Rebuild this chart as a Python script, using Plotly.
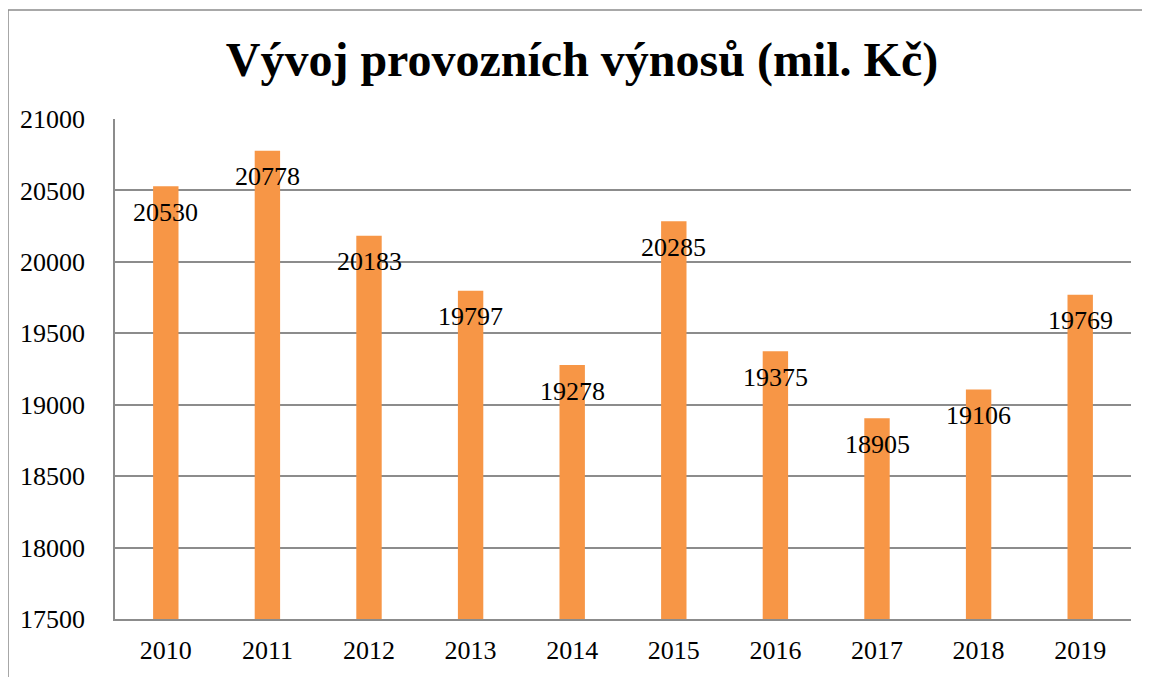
import plotly.graph_objects as go

years = [2010, 2011, 2012, 2013, 2014, 2015, 2016, 2017, 2018, 2019]
values = [20530, 20778, 20183, 19797, 19278, 20285, 19375, 18905, 19106, 19769]
y_ticks = [17500, 18000, 18500, 19000, 19500, 20000, 20500, 21000]

FONT = "Liberation Serif"

fig = go.Figure()
fig.add_trace(go.Bar(
    x=years, y=values, marker=dict(color="#F79646", line=dict(width=0)),
    hoverinfo="x+y",
))

for yr, v in zip(years, values):
    fig.add_annotation(x=yr, y=v, text=str(v), showarrow=False,
                       yanchor="middle", yshift=-26,
                       font=dict(family=FONT, size=26, color="black"))

fig.add_shape(type="rect", xref="paper", yref="paper",
              x0=-0.1053, y0=-0.3, x1=1.2, y1=1.218,
              line=dict(color="#8c8c8c", width=1.5), layer="below")

fig.update_layout(
    width=1142, height=669,
    margin=dict(l=107, r=19, t=111, b=58, autoexpand=False),
    paper_bgcolor="white", plot_bgcolor="white",
    bargap=0.75,
    showlegend=False,
    title=dict(text="<b>Vývoj provozních výnosů (mil. Kč)</b>",
               x=0.5026, xanchor="center", y=0.9238, yanchor="middle",
               font=dict(family=FONT, size=48, color="black")),
    font=dict(family=FONT, size=26, color="black"),
)
fig.update_yaxes(range=[17500, 21000], tickvals=y_ticks,
                 ticktext=[str(t) for t in y_ticks],
                 showgrid=True, gridcolor="#8c8c8c", gridwidth=1.5,
                 showline=True, linecolor="#8c8c8c", linewidth=1.5,
                 zeroline=False, ticks="outside", ticklen=23, tickcolor="white",
                 automargin=False,
                 tickfont=dict(family=FONT, size=26, color="black"))
fig.update_xaxes(type="linear", range=[years[0] - 0.5, years[-1] + 0.5],
                 tickvals=years, ticktext=[str(y) for y in years],
                 showgrid=False, zeroline=False,
                 showline=True, linecolor="#8c8c8c", linewidth=1.5,
                 ticks="outside", ticklen=7, tickcolor="white",
                 automargin=False,
                 tickfont=dict(family=FONT, size=26, color="black"))

fig.write_html("out.html")
